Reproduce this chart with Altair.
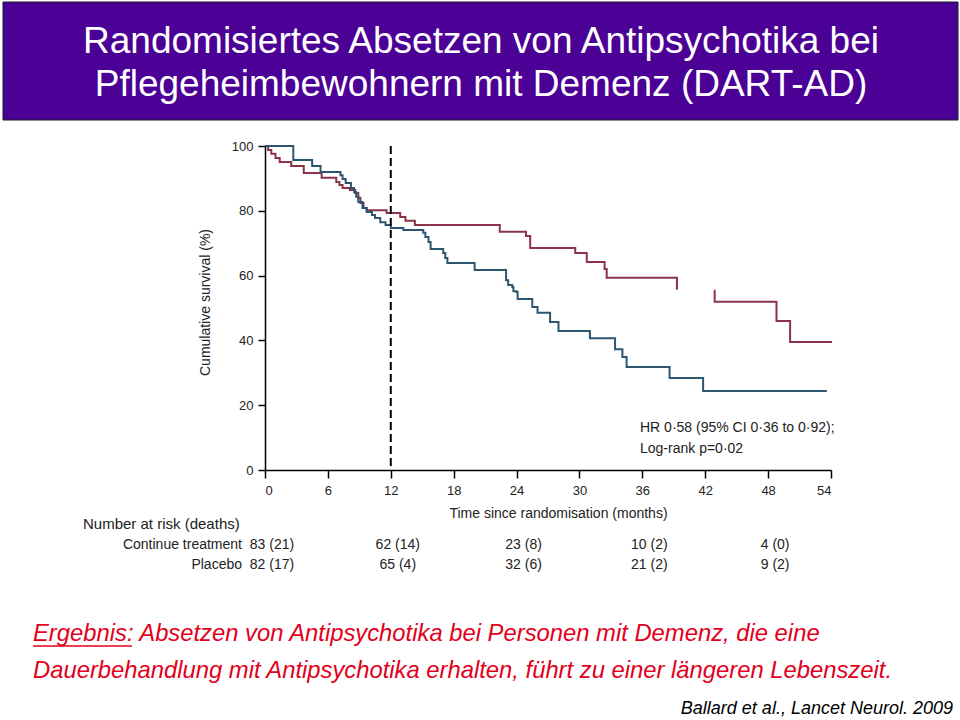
import altair as alt
import pandas as pd

# ---- Kaplan-Meier step data (months, cumulative survival %) ----
# Placebo (antipsychotic discontinued) - drawn in two pieces (gap in original)
placebo_t_a = [0, 0.3, 0.6, 1.0, 1.4, 2.5, 3.7, 5.4, 6.8, 7.1, 7.4, 8.1, 8.6, 8.9, 9.1,
               9.4, 9.7, 11.6, 12.9, 13.4, 14.3, 22.4, 24.9, 25.3, 29.6, 30.7, 32.4,
               32.6, 39.3]
placebo_s_a = [100, 98.8, 97.6, 96.3, 95.1, 93.8, 91.7, 90.2, 88.9, 88.0, 87.0, 86.4, 85.5,
               84.0, 82.4, 80.9, 80.2, 79.3, 78.1, 76.9, 75.6, 73.5, 72.2, 68.5, 67.0, 64.2,
               62.0, 59.3, 55.6]
placebo_t_b = [42.9, 42.9, 48.8, 50.1, 54.1]
placebo_s_b = [55.6, 51.9, 46.0, 39.5, 39.5]

# Continue treatment
cont_t = [0, 2.7, 4.5, 5.3, 7.2, 7.4, 7.7, 8.2, 8.5, 8.7, 8.9, 9.3, 9.7, 10.2, 10.5, 11.0,
          11.5, 12.0, 13.2, 15.1, 15.3, 15.6, 15.8, 17.0, 17.2, 17.4, 20.0, 23.0, 23.2,
          23.6, 23.7, 24.0, 24.1, 25.5, 26.0, 27.2, 28.0, 31.0, 33.4, 34.1, 34.5, 38.6,
          41.8, 53.6]
cont_s = [100, 95.7, 93.8, 92.0, 91.0, 89.8, 88.6, 87.0, 85.8, 84.3, 82.7, 80.9, 79.6, 78.7,
          77.8, 76.5, 75.6, 74.7, 74.1, 73.2, 71.9, 70.4, 68.2, 67.0, 65.4, 63.9, 61.7, 58.6,
          57.1, 56.5, 55.2, 54.9, 52.8, 50.3, 48.5, 45.7, 42.9, 40.7, 37.3, 34.9, 31.8, 28.4,
          24.4, 24.4]

# Number at risk (deaths)
risk_times = [0, 12, 24, 36, 48]
risk_continue = ["83 (21)", "62 (14)", "23 (8)", "10 (2)", "4 (0)"]
risk_placebo = ["82 (17)", "65 (4)", "32 (6)", "21 (2)", "9 (2)"]

x_ticks = [0, 6, 12, 18, 24, 30, 36, 42, 48, 54]
y_ticks = [0, 20, 40, 60, 80, 100]
cut_month = [12]

# ---- tables ----
rows = []
i = 0
for t, s in zip(placebo_t_a, placebo_s_a):
    rows.append({"t": t, "s": s, "group": "Placebo", "seg": "pa", "i": i}); i += 1
for t, s in zip(placebo_t_b, placebo_s_b):
    rows.append({"t": t, "s": s, "group": "Placebo", "seg": "pb", "i": i}); i += 1
for t, s in zip(cont_t, cont_s):
    rows.append({"t": t, "s": s, "group": "Continue", "seg": "c", "i": i}); i += 1
curves_df = pd.DataFrame(rows)
risk_df = pd.DataFrame({"t": risk_times, "cont": risk_continue, "plac": risk_placebo})

FIG_FONT = "Liberation Sans Narrow, Liberation Sans, sans-serif"
SLIDE_FONT = "Liberation Sans, Arial, sans-serif"
W, H = 566, 324

xs = alt.Scale(domain=[0, 54], nice=False, zero=False)
ys = alt.Scale(domain=[0, 100], nice=False)

x_axis = alt.Axis(values=x_ticks, title="Time since randomisation (months)", grid=False,
                  domainColor="black", domainWidth=1.5, tickColor="black", tickWidth=1.5,
                  tickSize=8, labelPadding=6, labelFont=FIG_FONT, labelFontSize=13,
                  labelColor="#222", titleFont=FIG_FONT, titleFontSize=14,
                  titleFontWeight="normal", titleColor="#222", titleX=293, titleY=43,
                  titleBaseline="middle", titleAlign="center")
y_axis = alt.Axis(values=y_ticks, title="Cumulative survival (%)", grid=False,
                  domainColor="black", domainWidth=1.5, tickColor="black", tickWidth=1.5,
                  tickSize=7, labelPadding=5, labelFont=FIG_FONT, labelFontSize=13,
                  labelColor="#222", titleFont=FIG_FONT, titleFontSize=14,
                  titleFontWeight="normal", titleColor="#222", titleX=-60, titleY=156,
                  titleAngle=-90, titleBaseline="middle", titleAlign="center")

x_enc = alt.X("t:Q", scale=xs, axis=x_axis)

curves = alt.Chart(curves_df).mark_line(interpolate="step-after", strokeWidth=2).encode(
    x=x_enc,
    y=alt.Y("s:Q", scale=ys, axis=y_axis),
    color=alt.Color("group:N", scale=alt.Scale(domain=["Placebo", "Continue"],
                                               range=["#8B3449", "#2C5670"]), legend=None),
    detail="seg:N",
    order=alt.Order("i:Q"),
)

cut = alt.Chart(pd.DataFrame({"t": cut_month})).mark_rule(
    color="black", strokeWidth=2, strokeDash=[8, 4]).encode(x=x_enc)


def label(text, x, y, **kw):
    return alt.Chart(pd.DataFrame({"text": [text]})).mark_text(**kw).encode(
        x=alt.value(x), y=alt.value(y), text="text:N")


banner = alt.Chart(pd.DataFrame({"a": [0]})).mark_rect(
    color="#4B0096", stroke="#1a1a1a", strokeWidth=1).encode(
    x=alt.value(-262), x2=alt.value(693), y=alt.value(-144), y2=alt.value(-26))

title1 = label("Randomisiertes Absetzen von Antipsychotika bei", 216, -93,
               font=SLIDE_FONT, fontSize=37, color="white", align="center",
               baseline="alphabetic")
title2 = label("Pflegeheimbewohnern mit Demenz (DART-AD)", 216, -50,
               font=SLIDE_FONT, fontSize=37, color="white", align="center",
               baseline="alphabetic")

hr1 = label("HR 0·58 (95% CI 0·36 to 0·92);", 375, 282, font=FIG_FONT, fontSize=14,
            color="#222", align="left", baseline="middle")
hr2 = label("Log-rank p=0·02", 375, 303, font=FIG_FONT, fontSize=14,
            color="#222", align="left", baseline="middle")

nar = label("Number at risk (deaths)", -182, 378, font=FIG_FONT, fontSize=15,
            color="#222", align="left", baseline="middle")
row_c = label("Continue treatment", -23, 399, font=FIG_FONT, fontSize=14,
              color="#222", align="right", baseline="middle")
row_p = label("Placebo", -23, 419, font=FIG_FONT, fontSize=14,
              color="#222", align="right", baseline="middle")

risk_c = alt.Chart(risk_df).mark_text(font=FIG_FONT, fontSize=14, color="#222",
                                      align="center", baseline="middle", dx=7).encode(
    x=x_enc, y=alt.value(399), text="cont:N")
risk_p = alt.Chart(risk_df).mark_text(font=FIG_FONT, fontSize=14, color="#222",
                                      align="center", baseline="middle", dx=7).encode(
    x=x_enc, y=alt.value(419), text="plac:N")

RED = "#E2001A"
res1 = label("Ergebnis: Absetzen von Antipsychotika bei Personen mit Demenz, die eine",
             -232, 495, font=SLIDE_FONT, fontSize=23.8, fontStyle="italic", color=RED,
             align="left", baseline="alphabetic")
res2 = label("Dauerbehandlung mit Antipsychotika erhalten, führt zu einer längeren Lebenszeit.",
             -232, 532, font=SLIDE_FONT, fontSize=23.8, fontStyle="italic", color=RED,
             align="left", baseline="alphabetic")
underline = alt.Chart(pd.DataFrame({"a": [0]})).mark_rule(color=RED, strokeWidth=1.5).encode(
    x=alt.value(-232), x2=alt.value(-133), y=alt.value(500))
cite = label("Ballard et al., Lancet Neurol. 2009", 688, 568, font=SLIDE_FONT, fontSize=18,
             fontStyle="italic", color="black", align="right", baseline="alphabetic")

chart = alt.layer(
    curves, cut, banner, title1, title2, hr1, hr2, nar, row_c, row_p, risk_c, risk_p,
    res1, res2, underline, cite
).properties(
    width=W, height=H,
    autosize=alt.AutoSizeParams(type="none"),
    padding={"left": 265, "top": 146, "right": 129, "bottom": 250},
    background="white",
).configure_view(stroke=None)

chart.save("out.html", embed_options={"renderer": "svg", "actions": False})
